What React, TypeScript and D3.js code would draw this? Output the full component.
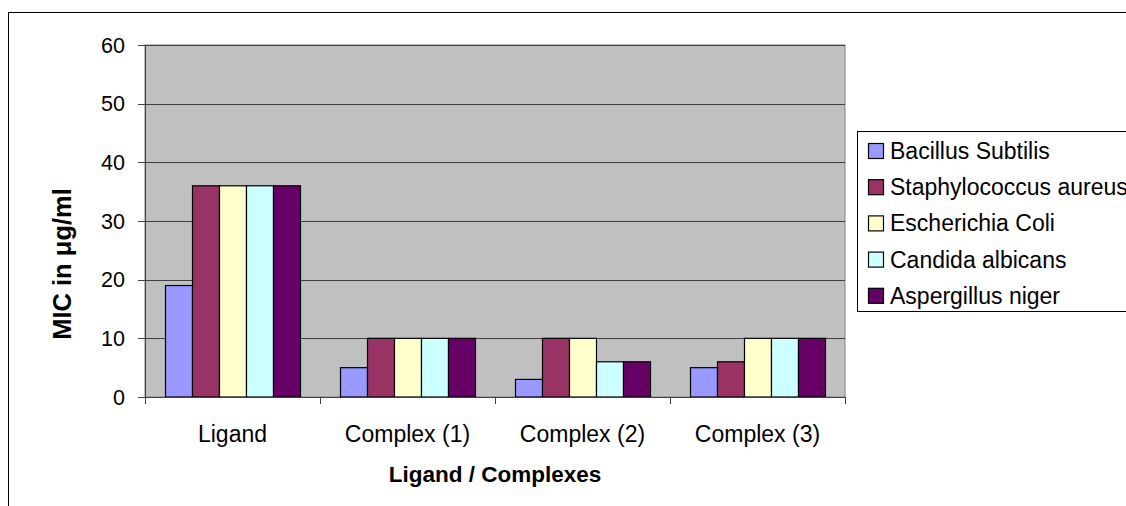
import React from "react";
import * as d3 from "d3";

const categories = ["Ligand", "Complex (1)", "Complex (2)", "Complex (3)"];
const seriesNames = [
  "Bacillus Subtilis",
  "Staphylococcus aureus",
  "Escherichia Coli",
  "Candida albicans",
  "Aspergillus niger",
];
const bacillus = [19, 5, 3, 5];
const staphylococcus = [36, 10, 10, 6];
const escherichia = [36, 10, 10, 10];
const candida = [36, 10, 6, 10];
const aspergillus = [36, 10, 6, 10];
const seriesValues = [bacillus, staphylococcus, escherichia, candida, aspergillus];
const seriesColors = ["#9999FF", "#993366", "#FFFFCC", "#CCFFFF", "#660066"];
const yTicks = [0, 10, 20, 30, 40, 50, 60];

const W = 1126;
const H = 506;
const plot = { left: 145, right: 845, top: 45, bottom: 397 };
const font = "Arial, 'Liberation Sans', sans-serif";

export default function App() {
  const x0 = d3
    .scaleBand<string>()
    .domain(categories)
    .range([plot.left, plot.right])
    .paddingInner(0)
    .paddingOuter(0);
  const x1 = d3
    .scaleBand<string>()
    .domain(seriesNames)
    .range([0, x0.bandwidth()])
    .paddingInner(0)
    .paddingOuter(20 / 27);
  const y = d3.scaleLinear().domain([0, 60]).range([plot.bottom, plot.top]);

  const boundaries = categories.map((c) => x0(c) as number).concat([plot.right]);

  return (
    <svg
      width={W}
      height={H}
      style={{ position: "absolute", left: 0, top: 0, background: "#fff" }}
      fontFamily={font}
    >
      {/* outer chart frame */}
      <rect x={8.5} y={12.5} width={1300} height={700} fill="#fff" stroke="#000" strokeWidth={1} />

      {/* plot area */}
      <rect
        x={plot.left}
        y={plot.top}
        width={plot.right - plot.left}
        height={plot.bottom - plot.top}
        fill="#C0C0C0"
        stroke="#808080"
        strokeWidth={1}
      />
      {yTicks.map((t) => (
        <line
          key={"g" + t}
          x1={plot.left}
          x2={plot.right}
          y1={Math.round(y(t)) + 0.5}
          y2={Math.round(y(t)) + 0.5}
          stroke="#404040"
          strokeWidth={1}
        />
      ))}

      {/* bars */}
      {categories.map((c, ci) => (
        <g key={c} transform={`translate(${x0(c)},0)`}>
          {seriesNames.map((s, si) => {
            const v = seriesValues[si][ci];
            return (
              <rect
                key={s}
                x={(x1(s) as number) + 0.5}
                y={y(v)}
                width={x1.bandwidth()}
                height={plot.bottom - y(v)}
                fill={seriesColors[si]}
                stroke="#000"
                strokeWidth={1.2}
              />
            );
          })}
        </g>
      ))}

      {/* y axis */}
      <line x1={plot.left + 0.5} x2={plot.left + 0.5} y1={plot.top} y2={plot.bottom + 6} stroke="#404040" />
      {yTicks.map((t) => (
        <g key={"t" + t}>
          <line
            x1={plot.left - 7}
            x2={plot.left}
            y1={Math.round(y(t)) + 0.5}
            y2={Math.round(y(t)) + 0.5}
            stroke="#404040"
          />
          <text x={plot.left - 20} y={y(t)} dy="0.35em" textAnchor="end" fontSize={21.5} fill="#000">
            {t}
          </text>
        </g>
      ))}

      {/* x axis */}
      <line x1={plot.left} x2={plot.right} y1={plot.bottom + 0.5} y2={plot.bottom + 0.5} stroke="#404040" />
      {boundaries.map((b, i) => (
        <line key={"xt" + i} x1={b + 0.5} x2={b + 0.5} y1={plot.bottom} y2={plot.bottom + 7} stroke="#404040" />
      ))}
      {categories.map((c) => (
        <text
          key={"xl" + c}
          x={(x0(c) as number) + x0.bandwidth() / 2}
          y={442}
          textAnchor="middle"
          fontSize={23}
          fill="#000"
        >
          {c}
        </text>
      ))}

      {/* axis titles */}
      <text x={495} y={482} textAnchor="middle" fontSize={22.5} fontWeight="bold" fill="#000">
        Ligand / Complexes
      </text>
      <text
        transform={`translate(71,264) rotate(-90)`}
        textAnchor="middle"
        fontSize={25.5}
        fontWeight="bold"
        fill="#000"
      >
        MIC in μg/ml
      </text>

      {/* legend */}
      <rect x={857.5} y={131.5} width={400} height={180} fill="#fff" stroke="#000" strokeWidth={1} />
      {seriesNames.map((s, i) => {
        const cy = 151 + i * 36.2;
        return (
          <g key={"lg" + s}>
            <rect x={868.5} y={cy - 7.5} width={15} height={15} fill={seriesColors[i]} stroke="#000" strokeWidth={1.2} />
            <text x={890} y={cy} dy="0.35em" fontSize={23} fill="#000">
              {s}
            </text>
          </g>
        );
      })}
    </svg>
  );
}
